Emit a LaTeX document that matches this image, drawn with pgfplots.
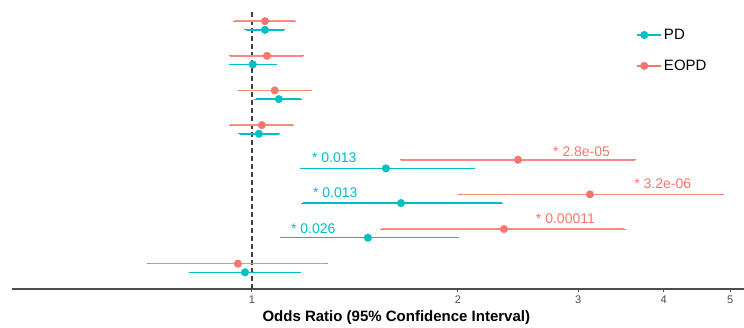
\documentclass[border=0pt]{standalone}
\usepackage{fontspec}
\setmainfont{Liberation Sans}
\usepackage{pgfplots}
\pgfplotsset{compat=1.18}
\usepackage{pgfplotstable}
\definecolor{pdc}{HTML}{00BFC4}
\definecolor{eopdc}{HTML}{F8766D}
\definecolor{axgray}{HTML}{4D4D4D}

\pgfplotstableread{
y x lo hi
8.125 1.045 0.944 1.156
7.125 1.052 0.929 1.187
6.125 1.080 0.960 1.220
5.125 1.034 0.929 1.148
4.125 2.449 1.652 3.630
3.125 3.120 2.008 4.870
2.125 2.336 1.549 3.500
1.125 0.954 0.705 1.287
}\eopdtab

\pgfplotstableread{
y x lo hi
7.875 1.045 0.980 1.114
6.875 1.003 0.932 1.084
5.875 1.095 1.013 1.179
4.875 1.024 0.960 1.095
3.875 1.570 1.183 2.105
2.875 1.652 1.187 2.320
1.875 1.478 1.103 2.000
0.875 0.977 0.812 1.175
}\pdtab

\begin{document}
\begin{tikzpicture}
\useasboundingbox (0,0) rectangle (744pt,327pt);
\begin{axis}[
  at={(12pt,38pt)}, anchor=south west,
  scale only axis, width=732pt, height=289pt,
  xmode=log, xmin=0.446, xmax=5.24,
  ymin=0.394, ymax=8.736,
  clip=false,
  axis x line=bottom, axis y line=none,
  axis line style={axgray, line width=1.4pt, -},
  xtick={1,2,3,4,5}, xticklabels={1,2,3,4,5},
  minor xtick={},
  tick align=outside, major tick length=3pt,
  tick style={axgray, line width=1pt},
  xticklabel style={font=\fontsize{11}{13}\selectfont, text=axgray},
  /pgf/number format/assume math mode=true,
  xlabel={Odds Ratio (95\% Confidence Interval)},
  xlabel style={font=\bfseries\fontsize{15}{18}\selectfont, at={(axis description cs:0.525,-0.1)}, anchor=center},
  legend style={draw=none, fill=none, at={(axis description cs:0.853,0.907)}, anchor=north west,
    font=\fontsize{15}{18}\selectfont, row sep=15pt, inner sep=0pt, cells={anchor=west}},
  legend image code/.code={\path (0pt,0pt) -- (24pt,0pt); \draw[mark repeat=2,mark phase=2,#1] plot coordinates {(0pt,0pt)(7pt,0pt)(14pt,0pt)};},
]
\addlegendimage{pdc, line width=1.4pt, mark=*, mark size=3.3pt}
\addlegendentry{PD}
\addlegendimage{eopdc, line width=1.4pt, mark=*, mark size=3.3pt}
\addlegendentry{EOPD}

\addplot[forget plot, black!75, line width=1.3pt, dash pattern=on 5pt off 3pt] coordinates {(1,0.394) (1,8.447)};

\addplot[forget plot, eopdc, only marks, mark=*, mark size=3.8pt,
  error bars/.cd, x dir=both, x explicit,
  error bar style={line width=1.6pt, eopdc!85},
  error mark options={eopdc, line width=1pt, mark size=1.5pt}]
  table[x=x, y=y, x error plus expr=\thisrow{hi}-\thisrow{x}, x error minus expr=\thisrow{x}-\thisrow{lo}] {\eopdtab};

\addplot[forget plot, pdc, only marks, mark=*, mark size=3.8pt,
  error bars/.cd, x dir=both, x explicit,
  error bar style={line width=1.6pt, pdc},
  error mark options={pdc, line width=1pt, mark size=1.5pt}]
  table[x=x, y=y, x error plus expr=\thisrow{hi}-\thisrow{x}, x error minus expr=\thisrow{x}-\thisrow{lo}] {\pdtab};

\begin{scope}[every node/.style={anchor=west, inner sep=0pt, font=\fontsize{14}{16}\selectfont}]
\node[text=pdc] at (axis cs:1.224,4.176) {* 0.013};
\node[text=pdc] at (axis cs:1.228,3.165) {* 0.013};
\node[text=pdc] at (axis cs:1.140,2.126) {* 0.026};
\node[text=eopdc] at (axis cs:2.755,4.349) {* 2.8e-05};
\node[text=eopdc] at (axis cs:3.620,3.425) {* 3.2e-06};
\node[text=eopdc] at (axis cs:2.600,2.415) {* 0.00011};
\end{scope}
\end{axis}
\end{tikzpicture}
\end{document}
